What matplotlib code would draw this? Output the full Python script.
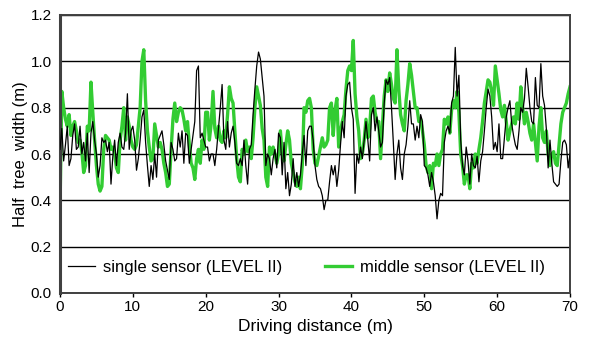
import numpy as np
import matplotlib
matplotlib.use("Agg")
import matplotlib.pyplot as plt

plt.rcParams['font.family'] = ['Liberation Sans', 'DejaVu Sans']

step_m = 0.25

single_sensor = [
    # 0 - 8.5
    0.62, 0.71, 0.57, 0.64, 0.72, 0.55, 0.58, 0.68, 0.73, 0.62, 0.63, 0.72, 0.60, 0.65, 0.57, 0.69, 0.52,
    0.69, 0.74, 0.66, 0.60, 0.50, 0.55, 0.67, 0.65, 0.66, 0.61, 0.65, 0.47, 0.59, 0.66, 0.55, 0.65, 0.69, 0.63,
    # 8.75 - 17.25
    0.62, 0.69, 0.86, 0.62, 0.70, 0.72, 0.66, 0.53, 0.58, 0.66, 0.76, 0.79, 0.65, 0.55, 0.46, 0.55, 0.49,
    0.60, 0.50, 0.66, 0.68, 0.70, 0.64, 0.57, 0.53, 0.49, 0.65, 0.62, 0.57, 0.58, 0.69, 0.63, 0.70, 0.56, 0.69,
    # 17.5 - 26
    0.68, 0.56, 0.62, 0.68, 0.74, 0.96, 0.98, 0.67, 0.69, 0.66, 0.63, 0.63, 0.57, 0.60, 0.60, 0.55, 0.62,
    0.71, 0.80, 0.90, 0.66, 0.62, 0.74, 0.63, 0.69, 0.72, 0.65, 0.56, 0.55, 0.58, 0.55, 0.66, 0.55, 0.47, 0.62,
    # 26.25 - 34.75
    0.64, 0.77, 0.88, 0.98, 1.04, 1.01, 0.93, 0.85, 0.55, 0.60, 0.58, 0.51, 0.58, 0.62, 0.54, 0.69, 0.67,
    0.51, 0.65, 0.45, 0.52, 0.42, 0.47, 0.58, 0.46, 0.52, 0.46, 0.51, 0.60, 0.68, 0.55, 0.70, 0.72, 0.72, 0.66,
    # 35 - 43.5
    0.55, 0.49, 0.46, 0.45, 0.42, 0.36, 0.40, 0.40, 0.48, 0.55, 0.51, 0.55, 0.46, 0.53, 0.64, 0.74, 0.67,
    0.85, 0.90, 0.91, 0.80, 0.75, 0.43, 0.60, 0.56, 0.63, 0.58, 0.66, 0.74, 0.66, 0.57, 0.77, 0.80, 0.70, 0.76,
    # 43.75 - 52.25
    0.70, 0.63, 0.65, 0.82, 0.92, 0.90, 0.93, 0.80, 0.65, 0.49, 0.60, 0.66, 0.54, 0.49, 0.60, 0.64, 0.72,
    0.83, 0.73, 0.73, 0.66, 0.72, 0.67, 0.77, 0.74, 0.55, 0.54, 0.51, 0.46, 0.52, 0.48, 0.42, 0.32, 0.40, 0.43,
    # 52.5 - 61
    0.42, 0.65, 0.70, 0.72, 0.69, 0.82, 0.85, 1.06, 0.85, 0.94, 0.66, 0.55, 0.51, 0.63, 0.57, 0.47, 0.60,
    0.55, 0.54, 0.59, 0.48, 0.57, 0.61, 0.70, 0.80, 0.88, 0.85, 0.76, 0.62, 0.65, 0.61, 0.73, 0.58, 0.58, 0.67,
    # 61.25 - 70
    0.76, 0.80, 0.83, 0.73, 0.68, 0.64, 0.62, 0.70, 0.80, 0.78, 0.84, 0.97, 0.89, 0.80, 0.74, 0.73, 0.93,
    0.81, 0.80, 0.99, 0.85, 0.81, 0.71, 0.54, 0.66, 0.56, 0.48, 0.47, 0.46, 0.47, 0.57, 0.65, 0.66, 0.64, 0.54, 0.60,
]

middle_sensor = [
    # 0 - 8.5
    0.36, 0.87, 0.80, 0.75, 0.72, 0.77, 0.68, 0.72, 0.74, 0.70, 0.65, 0.66, 0.61, 0.52, 0.55, 0.72, 0.70,
    0.91, 0.78, 0.66, 0.55, 0.47, 0.44, 0.46, 0.62, 0.68, 0.67, 0.66, 0.62, 0.63, 0.60, 0.54, 0.52, 0.66, 0.72,
    # 8.75 - 17.25
    0.80, 0.66, 0.76, 0.72, 0.66, 0.63, 0.62, 0.64, 0.72, 0.80, 1.00, 1.05, 0.83, 0.70, 0.63, 0.57, 0.58,
    0.73, 0.68, 0.63, 0.65, 0.62, 0.56, 0.52, 0.46, 0.47, 0.62, 0.75, 0.82, 0.74, 0.78, 0.80, 0.79, 0.75, 0.70,
    # 17.5 - 26
    0.74, 0.64, 0.56, 0.54, 0.49, 0.58, 0.62, 0.56, 0.66, 0.62, 0.78, 0.78, 0.66, 0.73, 0.87, 0.71, 0.67,
    0.72, 0.66, 0.65, 0.70, 0.67, 0.77, 0.89, 0.84, 0.82, 0.70, 0.58, 0.50, 0.48, 0.62, 0.60, 0.66, 0.61, 0.63,
    # 26.25 - 34.75
    0.58, 0.67, 0.80, 0.89, 0.85, 0.81, 0.71, 0.66, 0.50, 0.46, 0.63, 0.60, 0.63, 0.60, 0.56, 0.60, 0.70,
    0.60, 0.57, 0.64, 0.70, 0.66, 0.56, 0.52, 0.48, 0.46, 0.50, 0.45, 0.55, 0.80, 0.78, 0.83, 0.84, 0.80, 0.62,
    # 35 - 43.5
    0.56, 0.55, 0.59, 0.63, 0.67, 0.63, 0.64, 0.66, 0.80, 0.82, 0.68, 0.79, 0.84, 0.63, 0.70, 0.74, 0.77,
    0.88, 0.96, 0.98, 0.96, 1.09, 0.86, 0.76, 0.70, 0.58, 0.60, 0.66, 0.75, 0.67, 0.71, 0.84, 0.85, 0.78, 0.74,
    # 43.75 - 52.25
    0.74, 0.58, 0.72, 0.85, 0.92, 0.87, 0.95, 0.90, 0.84, 0.82, 1.05, 0.88, 0.77, 0.73, 0.70, 0.83, 0.90,
    0.99, 0.94, 0.87, 0.80, 0.80, 0.74, 0.75, 0.70, 0.64, 0.55, 0.52, 0.55, 0.45, 0.56, 0.55, 0.60, 0.55, 0.60,
    # 52.5 - 61
    0.62, 0.75, 0.73, 0.76, 0.69, 0.79, 0.83, 0.80, 0.87, 0.78, 0.60, 0.55, 0.47, 0.51, 0.51, 0.45, 0.56,
    0.54, 0.60, 0.56, 0.62, 0.67, 0.74, 0.82, 0.87, 0.92, 0.91, 0.87, 0.81, 0.98, 0.92, 0.86, 0.79, 0.76, 0.81,
    # 61.25 - 70
    0.74, 0.66, 0.70, 0.73, 0.76, 0.73, 0.82, 0.75, 0.89, 0.80, 0.73, 0.78, 0.74, 0.69, 0.66, 0.73, 0.65,
    0.57, 0.72, 0.80, 0.67, 0.65, 0.70, 0.60, 0.55, 0.60, 0.61, 0.56, 0.55, 0.64, 0.73, 0.78, 0.80, 0.82, 0.86, 0.89,
]

x_ticks = [0, 10, 20, 30, 40, 50, 60, 70]
y_ticks = [0.0, 0.2, 0.4, 0.6, 0.8, 1.0, 1.2]
y_tick_labels = ["0.0", "0.2", "0.4", "0.6", "0.8", "1.0", "1.2"]
label_single = "single sensor (LEVEL II)"
label_middle = "middle sensor (LEVEL II)"

dist_single = np.arange(len(single_sensor)) * step_m
dist_middle = np.arange(len(middle_sensor)) * step_m

fig = plt.figure(figsize=(5.91, 3.40), dpi=100)
ax = fig.add_axes([60 / 591, 1 - 293 / 340, 510 / 591, 278 / 340])

for yv in y_ticks:
    ax.axhline(yv, color='black', lw=1.0, zorder=1)

ax.plot(dist_middle, middle_sensor, color='#33cc33', lw=2.4, zorder=2, label=label_middle)
ax.plot(dist_single, single_sensor, color='black', lw=0.9, zorder=3, label=label_single)

ax.set_xlim(0, 70)
ax.set_ylim(0, 1.2)
ax.set_xticks(x_ticks)
ax.set_yticks(y_ticks)
ax.set_yticklabels(y_tick_labels)
ax.tick_params(axis='both', labelsize=11, colors='black', width=1)
ax.tick_params(axis='x', length=3, pad=2)
ax.tick_params(axis='y', length=0, pad=6)

for side in ['left', 'bottom', 'right', 'top']:
    ax.spines[side].set_color('#404040')
    ax.spines[side].set_linewidth(1.4)
ax.spines['left'].set_linewidth(2.2)

ax.set_xlabel("Driving distance (m)", fontsize=12.5, labelpad=4)
ax.set_ylabel("Half  tree  width (m)", fontsize=12, labelpad=2)

h, l = ax.get_legend_handles_labels()
leg = ax.legend([h[1], h[0]], [l[1], l[0]], ncol=2, loc='center left',
                bbox_to_anchor=(0.0157, 0.0935), frameon=False, fontsize=12,
                handlelength=1.6, columnspacing=2.6, handletextpad=0.48,
                borderpad=0, borderaxespad=0)

fig.savefig("out.png", dpi=100)
